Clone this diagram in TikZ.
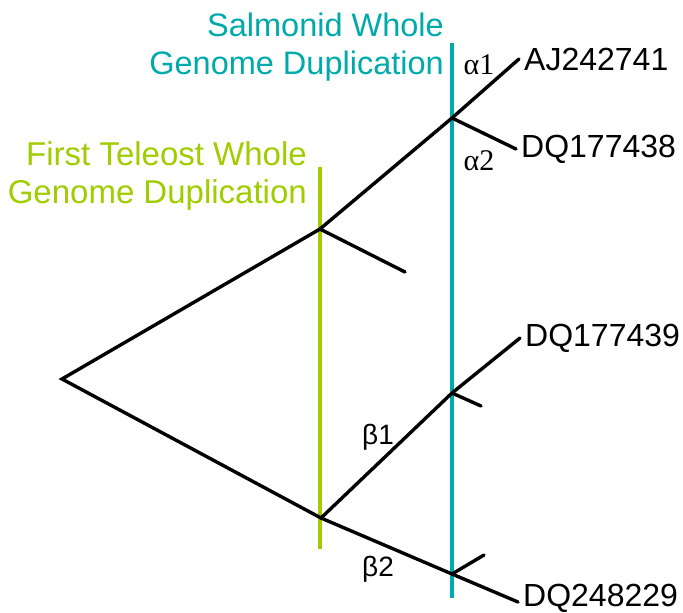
\documentclass[tikz,border=0pt]{standalone}
\usepackage{fontspec}
\setmainfont{Liberation Sans}
\newfontfamily\serifgr{Liberation Serif}
\definecolor{tgreen}{RGB}{160,204,0}
\definecolor{steal}{RGB}{0,170,170}
\begin{document}
\begin{tikzpicture}[x=1pt,y=-1pt,
  br/.style={line width=3.4pt,black,line cap=round},
  dupg/.style={line width=4pt,tgreen},
  dupt/.style={line width=4pt,steal},
  leaf/.style={anchor=west,inner sep=0pt,font=\fontsize{32}{36}\selectfont},
  glab/.style={font=\serifgr\fontsize{30}{30}\selectfont,inner sep=0pt},
  blab/.style={font=\fontsize{28}{32}\selectfont,inner sep=0pt}]
\useasboundingbox (0,0) rectangle (683,613);
% duplication lines
\coordinate (gt) at (320,167);
\coordinate (gb) at (320,549);
\coordinate (tt) at (452,43);
\coordinate (tb) at (452,598);
\draw[dupg] (gt) -- (gb);
\draw[dupt] (tt) -- (tb);
% tree nodes
\coordinate (root) at (62,379);
\coordinate (a) at (320,229);
\coordinate (b) at (321,518);
\coordinate (s1) at (452,118);
\coordinate (s2) at (452,393);
\coordinate (s3) at (452,574);
\coordinate (x1) at (405,272);
\coordinate (x2) at (481,406);
\coordinate (x3) at (484,555);
\coordinate (t1) at (519,59);
\coordinate (t2) at (516,149);
\coordinate (t3) at (520,338);
\coordinate (t4) at (518,602);
\draw[br,line join=miter] (a) -- (root) -- (b);
\draw[br] (a) -- (s1) -- (t1);
\draw[br] (s1) -- (t2);
\draw[br] (a) -- (x1);
\draw[br] (b) -- (s2) -- (t3);
\draw[br] (s2) -- (x2);
\draw[br] (b) -- (s3) -- (t4);
\draw[br] (s3) -- (x3);
% leaf labels
\node[leaf] (L1) at ([xshift=5pt]t1) {AJ242741};
\node[leaf] (L2) at ([xshift=5pt]t2) {DQ177438};
\node[leaf] (L3) at ([xshift=5pt]t3) {DQ177439};
\node[leaf] (L4) at ([xshift=5pt,yshift=4pt]t4) {DQ248229};
% branch labels
\node[glab] (A1) at (479,65) {α1};
\node[glab] (A2) at (479,161) {α2};
\node[blab] (B1) at (378,437) {β1};
\node[blab] (B2) at (378,569) {β2};
% event labels
\node[font=\fontsize{33}{38}\selectfont,text=tgreen,align=right,anchor=east,inner sep=0pt] (FT) at (307,176) {First Teleost Whole\\Genome Duplication};
\node[font=\fontsize{32.5}{38}\selectfont,text=steal,align=right,anchor=east,inner sep=0pt] (SW) at (444,47) {Salmonid Whole\\Genome Duplication};
\end{tikzpicture}
\end{document}
